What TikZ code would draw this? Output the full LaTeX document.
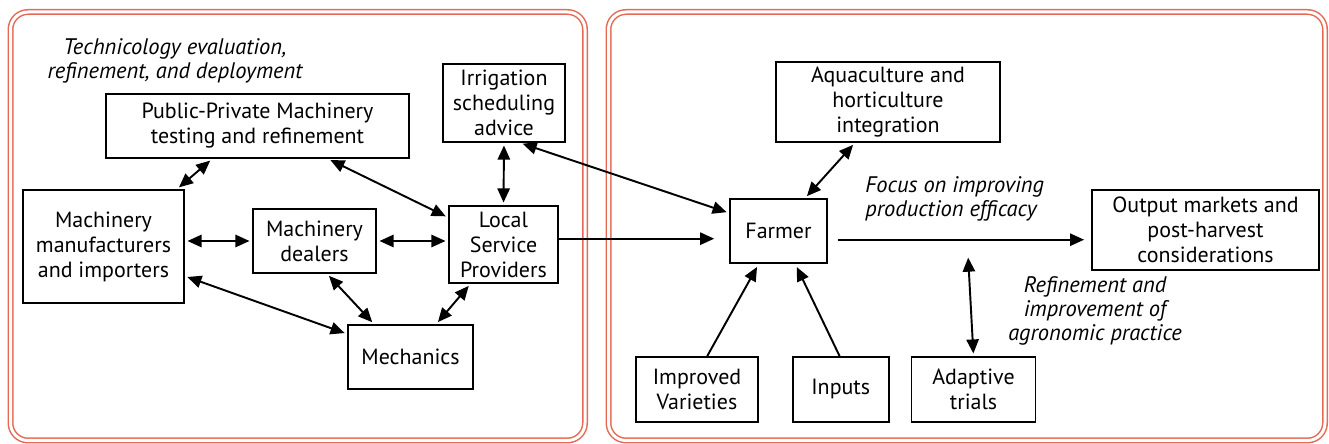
\documentclass[tikz,border=0pt]{standalone}
\usepackage{fontspec}
\setmainfont{PT Sans}
\usepackage{tikz}
\usetikzlibrary{positioning}
\usetikzlibrary{arrows.meta}
\definecolor{framered}{RGB}{228,106,86}

\begin{document}
\begin{tikzpicture}[
        box/.style = {
            draw,
            line width = 1pt,
            align = center,
            inner sep = 1pt,
            font = \fontsize{12.5}{14.2}\selectfont,
            minimum height = #1
        },
        box/.default = 1.28cm,
        note/.style = {
            align = center,
            inner sep = 0pt,
            font = \fontsize{12.8}{13.8}\selectfont\itshape
        },
        link/.style = {
            line width = 1.1pt,
            {Triangle[length=8pt,width=7pt]}-{Triangle[length=8pt,width=7pt]},
            shorten < = 1.5pt,
            shorten > = 1.5pt
        },
        flow/.style = {
            line width = 1.1pt,
            -{Triangle[length=8pt,width=7pt]}
        },
        panel/.style = {
            draw = framered,
            line width = 0.03cm,
            double = white,
            double distance = 0.06cm,
            rounded corners = 0.35cm
        }
        ]
        \useasboundingbox (0,0) rectangle (26.58,8.86);
%
        \draw[panel] (0.21,0.05) rectangle (11.7,8.62);
        \draw[panel] (12.17,0.05) rectangle (26.5,8.62);
%
        \node[note] (tech) at (3.5,7.64) {Technicology evaluation,\\refinement, and deployment};
%
        \node[box, minimum width=6.06cm] (ppm) at (5.15,6.34) {Public-Private Machinery\\testing and refinement};
        \node[box=2.26cm, minimum width=3.22cm] (mmi) at (2.07,3.93) {Machinery\\manufacturers\\and importers};
        \node[box, minimum width=2.46cm] (dealers) at (6.29,4.04) {Machinery\\dealers};
        \node[box, minimum width=2.5cm] (mech) at (8.21,1.72) {Mechanics};
        \node[box=1.54cm, minimum width=2.18cm] (lsp) at (10.07,3.97) {Local\\Service\\Providers};
        \node[box=1.56cm, minimum width=2.44cm] (irr) at (10.08,6.8) {Irrigation\\scheduling\\advice};
%
        \node[box, minimum width=1.94cm] (farmer) at (15.57,4.24) {Farmer};
        \node[box=1.6cm, minimum width=4.48cm] (aqua) at (17.76,6.82) {Aquaculture and\\horticulture\\integration};
        \node[box=1.6cm, minimum width=4.54cm] (out) at (24.11,4.26) {Output markets and\\post-harvest\\considerations};
%
        \node[box=1.3cm, minimum width=2.44cm] (impv) at (13.94,1.07) {Improved\\Varieties};
        \node[box=1.3cm, minimum width=1.92cm] (inputs) [right=0.66cm of impv] {Inputs};
        \node[box=1.3cm, minimum width=2.48cm] (trials) [right=0.42cm of inputs] {Adaptive\\trials};
%
        \node[note, anchor=west, align=left] (focus) at (17.3,4.88) {Focus on improving\\production efficacy};
        \node[note] (agro) at (21.9,2.64) {Refinement and\\improvement of\\agronomic practice};
        \coordinate (trialtop) at (19.36,3.76);
%
% left panel
        \draw[link] (mmi.38) -- (ppm.216);
        \draw[link] (ppm.335) -- (lsp.154);
        \draw[link] (dealers.west -| mmi.east) -- (dealers.west);
        \draw[link] (dealers.east) -- (dealers.east -| lsp.west);
        \draw[link] (mmi.340) -- (mech.160);
        \draw[link] (dealers.291) -- (mech.138);
        \draw[link] (lsp.230) -- (mech.52);
        \draw[link] (irr.south) -- (lsp.north);
%
% across
        \draw[link] (irr.292) -- (farmer.160);
        \draw[flow, shorten > = 8.5pt] (lsp.6) -- (lsp.6 -| farmer.west);
%
% right panel
        \draw[link] (farmer.51) -- (aqua.231);
        \draw[flow, shorten < = 6pt, shorten > = 4pt] (farmer.350) -- (farmer.350 -| out.west);
        \draw[flow, shorten > = 2pt] (impv.73) -- (farmer.239);
        \draw[flow, shorten > = 2pt] (inputs.92) -- (farmer.297);
        \draw[link] (trials.north) -- (trialtop);
%
    \end{tikzpicture}
\end{document}
